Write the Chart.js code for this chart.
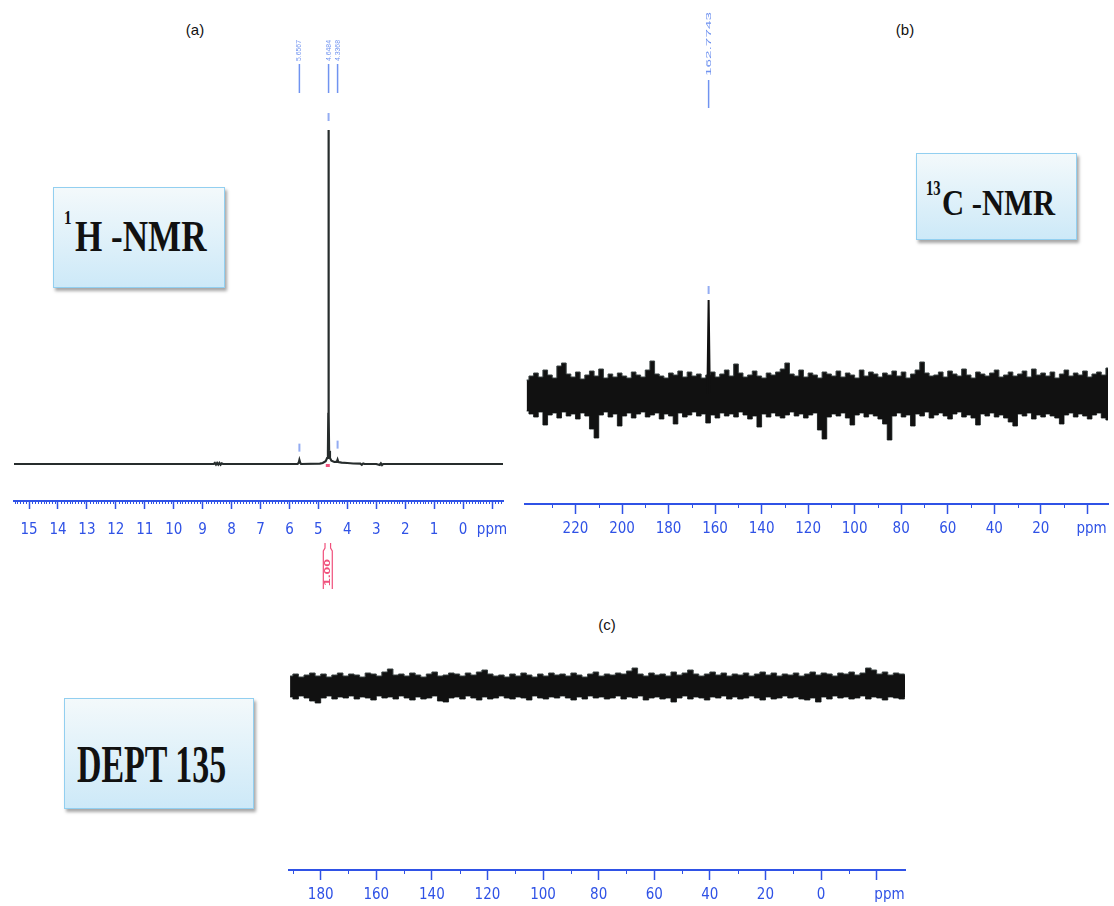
<!DOCTYPE html>
<html>
<head>
<meta charset="utf-8">
<script src="https://cdn.jsdelivr.net/npm/chart.js@4.4.0/dist/chart.umd.min.js"></script>
<style>
body { margin: 0; background: #fff; width: 1114px; height: 906px; position: relative; overflow: hidden; font-family: 'Liberation Sans', Arial, sans-serif; }
canvas { position: absolute; }
.panel { position: absolute; width: 40px; margin-left: -20px; text-align: center; font-size: 15px; line-height: 18px; color: #111; }
.box { position: absolute; box-sizing: border-box; border: 1px solid #92cff0; background: linear-gradient(#f3f9fb, #cde9f8); box-shadow: 2px 3px 3px rgba(0,0,0,.35); }
.t { position: absolute; white-space: nowrap; font-family: 'Liberation Serif', 'Times New Roman', serif; font-weight: bold; line-height: 1; transform-origin: 0 0; color: #111; }
</style>
</head>
<body>
<div class="panel" style="left:195px;top:21px">(a)</div>
<div class="panel" style="left:905px;top:21px">(b)</div>
<div class="panel" style="left:607px;top:616px">(c)</div>

<div class="box" style="left:53px;top:187px;width:172px;height:101px"></div>
<span class="t" style="left:64px;top:208px;font-size:19px;transform:scaleX(0.8)">1</span>
<span class="t" style="left:75px;top:214px;font-size:45px;transform:scaleX(0.78)">H -NMR</span>

<div class="box" style="left:916px;top:153px;width:161px;height:87px"></div>
<span class="t" style="left:926px;top:178px;font-size:20px;transform:scaleX(0.73)">13</span>
<span class="t" style="left:942px;top:186px;font-size:35px;transform:scaleX(0.874)">C -NMR</span>

<div class="box" style="left:64px;top:698px;width:190px;height:111px"></div>
<span class="t" style="left:77px;top:738px;font-size:53px;transform:scaleX(0.64)">DEPT 135</span>

<canvas id="h1Chart" style="left:0;top:0" width="514" height="600"></canvas>
<canvas id="c13Chart" style="left:514px;top:0" width="600" height="544"></canvas>
<canvas id="deptChart" style="left:270px;top:600px" width="650" height="306"></canvas>

<script>
// ---------- (a) 1H-NMR ----------
const h1Ppm = [15.6, 12.0, 9.0, 8.62, 8.58, 8.54, 8.50, 8.46, 8.42, 8.38, 8.34, 8.30, 6.0, 5.72, 5.68, 5.6567, 5.63, 5.60,
  4.95, 4.85, 4.75, 4.70, 4.67, 4.658, 4.652, 4.6484, 4.645, 4.639, 4.63, 4.60, 4.55, 4.45, 4.36, 4.3368, 4.31, 4.20,
  4.00, 3.80, 3.55, 3.50, 3.45, 3.40, 3.00, 2.88, 2.84, 2.80, 2.76, 2.70, 1.0, -1.5];
const h1Int = [0, 0, 0, 0, 0.3, -0.2, 0.3, -0.2, 0.3, -0.2, 0.2, 0, 0, 0, 0.4, 1.2, 0.4, 0,
  0.1, 0.3, 0.8, 1.8, 4, 15, 60, 100, 60, 15, 4, 1.8, 1.0, 0.6, 0.7, 1.3, 0.6, 0.4,
  0.3, 0.15, 0.1, -0.25, 0.15, 0, 0, -0.3, 0.2, -0.3, 0, 0, 0, 0];
const h1Picks = ['5.6567', '4.6484', '4.3368'];
const h1PickMarks = [4.9, 103.9, 5.8];
const h1Integral = [4.83, 4.52];
const h1IntegralValue = '1.00';
const h1Ticks = [-1, 0, 1, 2, 3, 4, 5, 6, 7, 8, 9, 10, 11, 12, 13, 14, 15];

// ---------- (b) 13C-NMR ----------
const c13Start = 241, c13Step = 2;   // ppm grid of the noise envelope
const c13Upper = [14, 18, 21, 17, 24, 19, 16, 28, 31, 20,
  17, 22, 15, 19, 23, 18, 25, 16, 20, 17,
  21, 18, 16, 22, 19, 17, 24, 33, 20, 18,
  16, 21, 19, 23, 17, 22, 18, 20, 16, 19,
  22, 17, 20, 24, 18, 30, 21, 17, 19, 23,
  18, 16, 21, 19, 22, 25, 31, 20, 18, 24,
  17, 21, 19, 16, 22, 20, 18, 23, 17, 21,
  19, 16, 24, 18, 22, 20, 17, 21, 19, 23,
  18, 22, 16, 20, 24, 32, 21, 18, 19, 22,
  17, 23, 20, 18, 25, 19, 16, 22, 20, 18,
  21, 24, 17, 19, 22, 18, 20, 23, 17, 25,
  19, 21, 18, 22, 16, 20, 24, 18, 21, 19,
  23, 17, 20, 22, 19, 26];
const c13Lower = [-17, -20, -23, -18, -31, -21, -19, -24, -18, -22,
  -20, -25, -19, -22, -35, -44, -21, -18, -23, -20,
  -32, -22, -19, -24, -20, -18, -23, -21, -19, -25,
  -20, -22, -30, -19, -23, -21, -18, -22, -20, -29,
  -21, -24, -19, -22, -20, -23, -18, -21, -25, -22,
  -33, -20, -23, -19, -22, -24, -21, -18, -22, -20,
  -24, -21, -19, -36, -45, -23, -20, -22, -19, -24,
  -31, -21, -19, -23, -20, -22, -25, -30, -46, -22,
  -19, -23, -21, -32, -20, -22, -18, -24, -21, -19,
  -22, -25, -20, -18, -23, -21, -24, -31, -20, -22,
  -19, -23, -21, -24, -28, -32, -20, -22, -19, -25,
  -21, -23, -20, -22, -24, -30, -21, -19, -23, -20,
  -22, -25, -21, -19, -24, -26];
const c13PeakPpm = [163.3, 162.7743, 162.25];
const c13PeakInt = [0, 94, 0];
const c13Picks = ['162.7743'];
const c13PickMarks = [104];
const c13Ticks = [0, 20, 40, 60, 80, 100, 120, 140, 160, 180, 200, 220];

// ---------- (c) DEPT 135 ----------
const deptStart = 191, deptStep = 2;
const deptUpper = [10, 12, 9, 11, 13, 10, 12, 9, 11, 13,
  10, 12, 11, 9, 13, 12, 10, 14, 17, 11,
  12, 10, 13, 11, 9, 12, 14, 10, 11, 13,
  12, 10, 13, 11, 14, 16, 12, 10, 11, 9,
  12, 10, 13, 11, 9, 12, 10, 13, 11, 12,
  10, 13, 11, 9, 12, 14, 10, 12, 11, 13,
  12, 15, 18, 12, 10, 13, 11, 12, 10, 14,
  11, 13, 16, 12, 10, 12, 14, 11, 13, 10,
  12, 11, 13, 10, 12, 14, 11, 13, 10, 12,
  11, 13, 10, 12, 14, 11, 13, 12, 10, 13,
  12, 14, 11, 13, 18, 16, 12, 14, 11, 13,
  12, 11];
const deptLower = [-11, -13, -10, -12, -15, -17, -12, -10, -13, -11,
  -12, -10, -13, -11, -12, -14, -10, -12, -11, -13,
  -10, -12, -14, -11, -13, -12, -10, -15, -16, -12,
  -11, -13, -10, -12, -14, -11, -13, -12, -10, -12,
  -13, -11, -12, -14, -10, -12, -13, -11, -12, -10,
  -12, -14, -11, -13, -10, -12, -11, -13, -12, -10,
  -13, -11, -12, -10, -14, -12, -11, -13, -12, -16,
  -12, -10, -13, -11, -12, -14, -11, -12, -10, -13,
  -11, -13, -12, -10, -12, -14, -11, -13, -12, -10,
  -12, -11, -13, -14, -12, -16, -11, -13, -10, -12,
  -11, -13, -12, -10, -13, -11, -12, -14, -11, -12,
  -13, -11];
const deptTicks = [-20, 0, 20, 40, 60, 80, 100, 120, 140, 160, 180];

const axisBlue = '#2f52e6';
const pickBlue = '#7093f0';
const red = '#f0507c';
const tickFont = { family: "'Liberation Sans Narrow', 'DejaVu Sans Condensed', 'Liberation Sans', Arial", size: 15 };

const pts = (xs, ys) => ys.map((y, i) => ({ x: xs[i], y }));
const grid = (start, step, ys) => ys.map((y, i) => ({ x: start - step * i, y }));
const range = (a, b, step) => { const r = []; for (let v = a; v <= b + 1e-9; v += step) r.push(+v.toFixed(2)); return r; };

// rotated (bottom-to-top) label stretched to a given length
function vText(ctx, text, x, yBottom, len, font, color) {
  ctx.save();
  ctx.font = font;
  const w = ctx.measureText(text).width;
  ctx.translate(x, yBottom);
  ctx.rotate(-Math.PI / 2);
  ctx.scale(len / w, 1);
  ctx.textBaseline = 'middle';
  ctx.fillStyle = color;
  ctx.fillText(text, 0, 0);
  ctx.restore();
}

function decor(cfg) {
  return {
    id: 'decor',
    afterDraw(chart) {
      const ctx = chart.ctx, sx = chart.scales.x, sy = chart.scales.y;
      const top = sx.top;
      ctx.save();
      // minor ticks
      ctx.strokeStyle = axisBlue;
      ctx.lineWidth = 1;
      ctx.beginPath();
      cfg.minor.forEach(v => {
        if (v < sx.min || v > sx.max) return;
        const x = Math.round(sx.getPixelForValue(v)) + 0.5;
        ctx.moveTo(x, top);
        ctx.lineTo(x, top + cfg.minorLen);
      });
      ctx.stroke();
      // peak-pick labels
      cfg.picks.forEach(p => {
        const x = sx.getPixelForValue(parseFloat(p));
        ctx.strokeStyle = pickBlue;
        ctx.lineWidth = 1.5;
        ctx.beginPath();
        ctx.moveTo(x, cfg.lineTop);
        ctx.lineTo(x, cfg.lineBottom);
        ctx.stroke();
        vText(ctx, p, x, cfg.textBottom, cfg.textLen, cfg.textFont, pickBlue);
      });
      // integral bracket under the axis
      if (cfg.integral) {
        const xl = sx.getPixelForValue(cfg.integral[0]);
        const xr = sx.getPixelForValue(cfg.integral[1]);
        const y0 = top + cfg.intTop;
        ctx.strokeStyle = red;
        ctx.lineWidth = 1.2;
        ctx.beginPath();
        ctx.moveTo(xl + 1.7, y0); ctx.lineTo(xl + 1.7, y0 + 5); ctx.lineTo(xl, y0 + 8); ctx.lineTo(xl, y0 + 46);
        ctx.moveTo(xr - 1.7, y0); ctx.lineTo(xr - 1.7, y0 + 5); ctx.lineTo(xr, y0 + 8); ctx.lineTo(xr, y0 + 46);
        ctx.stroke();
        vText(ctx, cfg.integralText, (xl + xr) / 2, y0 + 43, 27, 'bold 9px Arial', red);
        ctx.fillStyle = red;
        ctx.fillRect((xl + xr) / 2 - 2, sy.getPixelForValue(0), 4, 3);
      }
      ctx.restore();
    }
  };
}

function ppmAxis(min, max, ticks, ppmTick, ppmLabel, tickLen, pad, height) {
  return {
    type: 'linear', reverse: true, min, max,
    afterBuildTicks: s => { s.ticks = ticks.map(v => ({ value: v })); },
    afterFit: s => { s.height = height; },
    border: { display: true, color: axisBlue, width: 2 },
    grid: { display: true, drawOnChartArea: false, drawTicks: true, tickLength: tickLen, tickColor: axisBlue, tickWidth: 1.5 },
    ticks: {
      autoSkip: false, maxRotation: 0, minRotation: 0, padding: pad, color: axisBlue, font: tickFont,
      callback: v => v === ppmTick ? ppmLabel : String(v)
    }
  };
}

function baseOptions(xScale, yMin, yMax, padding) {
  return {
    responsive: false, animation: false,
    layout: { padding },
    plugins: { legend: { display: false }, tooltip: { enabled: false } },
    scales: { x: xScale, y: { display: false, min: yMin, max: yMax } }
  };
}

const markStyle = { showLine: false, pointStyle: 'line', pointRotation: 90, pointRadius: 4, pointBorderWidth: 2, pointBorderColor: '#93acf2' };
const noise = { borderColor: '#3a4242', borderWidth: 1, pointRadius: 0, stepped: 'middle' };

new Chart(document.getElementById('h1Chart'), {
  type: 'line',
  data: {
    datasets: [
      Object.assign({ data: pts(h1Picks.map(parseFloat), h1PickMarks) }, markStyle),
      { data: pts(h1Ppm, h1Int), borderColor: '#262c2c', borderWidth: 2.2, pointRadius: 0, tension: 0 }
    ]
  },
  options: baseOptions(ppmAxis(-1.38, 15.52, h1Ticks, -1, 'ppm', 8, 12, 40), -11.08, 106, { left: 14, right: 11, top: 110, bottom: 59 }),
  plugins: [decor({
    minor: range(-1.3, 15.5, 0.1).filter(v => Math.abs(v - Math.round(v)) > 0.01), minorLen: 3,
    picks: h1Picks, lineTop: 64, lineBottom: 93, textBottom: 61, textLen: 21, textFont: '7px Arial',
    integral: h1Integral, integralText: h1IntegralValue, intTop: 42
  })]
});

new Chart(document.getElementById('c13Chart'), {
  type: 'line',
  data: {
    datasets: [
      Object.assign({ data: pts(c13Picks.map(parseFloat), c13PickMarks) }, markStyle),
      { data: pts(c13PeakPpm, c13PeakInt), borderColor: '#111', borderWidth: 2, pointRadius: 0, tension: 0 },
      Object.assign({ data: grid(c13Start, c13Step, c13Upper), backgroundColor: '#111', fill: '+1' }, noise),
      Object.assign({ data: grid(c13Start, c13Step, c13Lower), fill: false }, noise)
    ]
  },
  options: baseOptions(ppmAxis(-8.9, 241.7, c13Ticks, 0, '  ppm', 10, 6, 40), -110, 114, { left: 11, right: 0, top: 280, bottom: 0 }),
  plugins: [decor({
    minor: range(10, 230, 20), minorLen: 4,
    picks: c13Picks, lineTop: 80, lineBottom: 108, textBottom: 76, textLen: 64, textFont: '7.5px Arial'
  })]
});

new Chart(document.getElementById('deptChart'), {
  type: 'line',
  data: {
    datasets: [
      Object.assign({ data: grid(deptStart, deptStep, deptUpper), backgroundColor: '#111', fill: '+1' }, noise),
      Object.assign({ data: grid(deptStart, deptStep, deptLower), fill: false }, noise)
    ]
  },
  options: baseOptions(ppmAxis(-30.2, 191.4, deptTicks, -20, '      ppm', 10, 6, 36), -184, 46, { left: 19, right: 15, top: 40, bottom: 0 }),
  plugins: [decor({ minor: range(-10, 190, 20), minorLen: 4, picks: [] })]
});
</script>
</body>
</html>
